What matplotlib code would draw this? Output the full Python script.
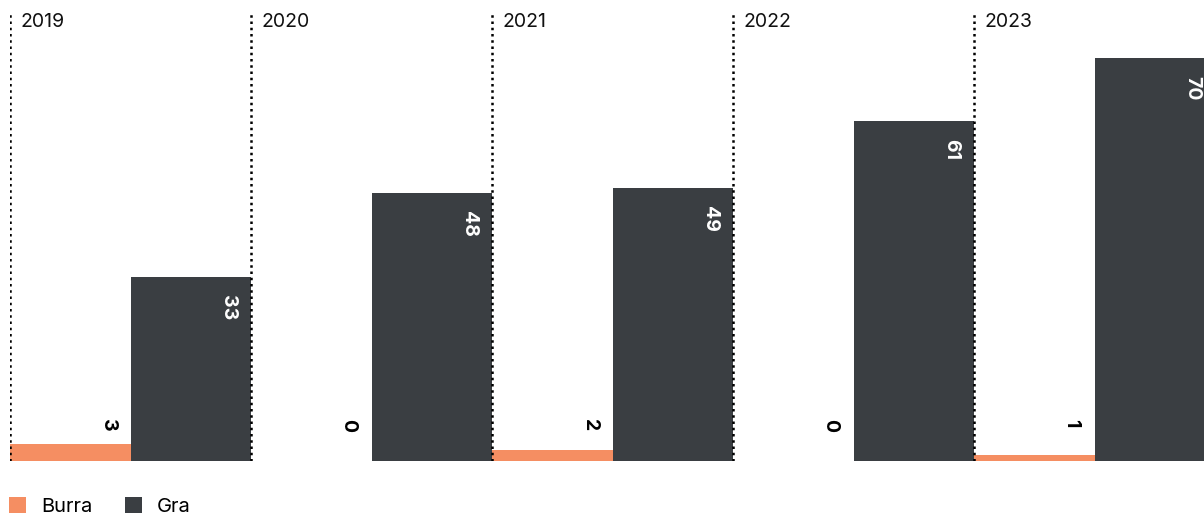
import matplotlib
matplotlib.use("Agg")
import matplotlib.pyplot as plt
from matplotlib.patches import Patch

years = ["2019", "2020", "2021", "2022", "2023"]
series_names = ["Burra", "Gra"]
burra_values = [3, 0, 2, 0, 1]
gra_values = [33, 48, 49, 61, 72.3]
burra_labels = ["3", "0", "2", "0", "1"]
gra_labels = ["33", "48", "49", "61", "70"]

ORANGE = "#F58E62"
DARK = "#3A3E42"
FONT = ["Inter", "DejaVu Sans"]
plt.rcParams["font.family"] = FONT

W, H = 1204, 515
fig = plt.figure(figsize=(W / 100, H / 100), dpi=100)
group_px = 241.0
base_px = 461.0
px_per_unit = 5.575
ax = fig.add_axes([10 / W, (H - base_px) / H, 5 * group_px / W, base_px / H])
ymax = base_px / px_per_unit
ax.set_xlim(0, 5)
ax.set_ylim(0, ymax)
ax.axis("off")

n = len(years)
xs = list(range(n))
ax.bar([x + 0.25 for x in xs], burra_values, width=0.5, color=ORANGE, zorder=2)
ax.bar([x + 0.75 for x in xs], gra_values, width=0.5, color=DARK, zorder=2)

# group separators
ax.vlines(xs, 0, (base_px - 12) / px_per_unit, colors="black",
          linestyles=(0, (1, 1.5)), linewidth=1.8, zorder=3)

off_x = 23 / group_px
for i in xs:
    ax.text(i + 10 / group_px, (base_px - 13) / px_per_unit, years[i],
            ha="left", va="top", fontsize=14, color="#111111")
    # burra label at fixed height
    ax.text(i + 0.5 - off_x, (base_px - 419) / px_per_unit, burra_labels[i],
            rotation=270, ha="center", va="top", fontsize=14,
            fontweight="bold", color="black", zorder=4)
    ax.text(i + 1.0 - off_x, gra_values[i] - 18 / px_per_unit, gra_labels[i],
            rotation=270, ha="center", va="top", fontsize=14,
            fontweight="bold", color="white", zorder=4)

handles = [Patch(facecolor=ORANGE, edgecolor="none"),
           Patch(facecolor=DARK, edgecolor="none")]
fig.legend(handles, series_names, loc="lower left",
           bbox_to_anchor=(9 / W, -1 / H), ncol=2, frameon=False,
           fontsize=14.5, handlelength=0.85, handleheight=0.85,
           handletextpad=0.75, columnspacing=1.6, borderaxespad=0,
           borderpad=0)

fig.savefig("out.png", dpi=100)
